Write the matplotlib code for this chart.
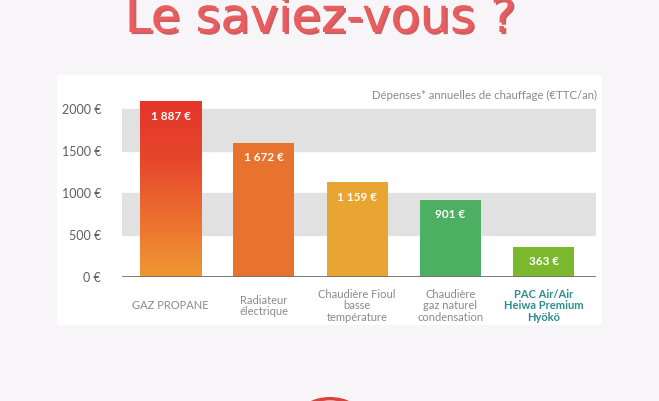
import matplotlib.pyplot as plt
import matplotlib.transforms as mtransforms
import matplotlib.patheffects as pe
from matplotlib.patches import FancyBboxPatch, Circle
import numpy as np

# data
categories = ["GAZ PROPANE", "Radiateur\nélectrique", "Chaudière Fioul\nbasse\ntempérature",
              "Chaudière\ngaz naturel\ncondensation", "PAC Air/Air\nHeiwa Premium\nHyökö"]
heights = [2085, 1590, 1120, 910, 355]          # bar heights as drawn
value_labels = ["1 887 €", "1 672 €", "1 159 €", "901 €", "363 €"]
yticks = [0, 500, 1000, 1500, 2000]
ytick_labels = ["0 €", "500 €", "1000 €", "1500 €", "2000 €"]
bar_colors = ["#e84a2e", "#e8732f", "#e9a531", "#4daf62", "#7cb82e"]

W, H = 659, 402
fig = plt.figure(figsize=(W / 100, H / 100), dpi=100)
fig.patch.set_facecolor("#f7f5f7")

def fx(px):
    return px / W

def fy(py):
    return 1 - py / H

# white panel behind the chart
panel = FancyBboxPatch((fx(57), fy(326)), fx(602) - fx(57), fy(76) - fy(326),
                       boxstyle="round,pad=0,rounding_size=0.006",
                       transform=fig.transFigure, facecolor="white", edgecolor="none", zorder=0)
fig.patches.append(panel)

# title with shadow (top is cut by the frame, as in the original)
fig.text(fx(320), fy(33), "Le saviez-vous ?", ha="center", va="baseline",
         fontsize=34.5, color="#ea5c5d", family="DejaVu Sans",
         path_effects=[pe.withSimplePatchShadow(offset=(1.5, -1.5), shadow_rgbFace="#c0393c", alpha=0.8)])

# axes: 0 at y=277.5 px, 84 px per 1000
ax_top = 80
ax = fig.add_axes([fx(122), fy(277.5), fx(596) - fx(122), (277.5 - ax_top) / H], zorder=3)
ax.set_facecolor("none")
ax.set_xlim(-0.52, 4.56)
ax.set_ylim(0, (277.5 - ax_top) / 84 * 1000)

ax.axhspan(500, 1000, color="#e1e1e1", zorder=0)
ax.axhspan(1500, 2000, color="#e1e1e1", zorder=0)

x = np.arange(len(categories))
bars = ax.bar(x, heights, width=0.656, color=bar_colors, zorder=2)

# gradient on the first bar (red on top, orange at the bottom)
b0 = bars[0]
b0.set_facecolor("none")
grad = np.linspace(0, 1, 256).reshape(-1, 1)
cmap = plt.matplotlib.colors.LinearSegmentedColormap.from_list(
    "g", ["#e4342b", "#e6472c", "#ec6f30", "#ef9832"])
im = ax.imshow(grad, extent=(b0.get_x(), b0.get_x() + b0.get_width(), 0, b0.get_height()),
               aspect="auto", cmap=cmap, origin="upper", zorder=2)
im.set_clip_path(b0)

ax.axhline(0, color="#707070", lw=2, zorder=3)

for i, (h, lab) in enumerate(zip(heights, value_labels)):
    ax.text(i, h - 165, lab, ha="center", va="center", color="white",
            fontsize=8.5, fontweight="bold", family="Lato", zorder=4)

ax.set_yticks(yticks)
ax.set_yticklabels(ytick_labels, family="Lato", fontsize=9, color="#5e5e5e")
ax.tick_params(axis="y", length=0, pad=15)
ax.set_xticks([])
for s in ax.spines.values():
    s.set_visible(False)

# category labels centred at y=306 px
trans = mtransforms.blended_transform_factory(ax.transData, fig.transFigure)
for i, cat in enumerate(categories):
    last = i == len(categories) - 1
    ax.text(i, fy(306), cat, transform=trans, ha="center", va="center",
            fontsize=8, family="Lato", linespacing=1.1,
            color="#2b8f8c" if last else "#8a8a8a",
            fontweight="bold" if last else "normal", clip_on=False)

fig.text(fx(597), fy(95), "Dépenses* annuelles de chauffage (€TTC/an)", ha="right", va="center",
         fontsize=8.2, family="Lato", color="#8a8a8a")

# logo peeking in at the bottom
fig.patches.append(Circle((fx(330), fy(418)), 30 / W, transform=fig.transFigure,
                          facecolor="white", edgecolor="#d8453c", lw=2.5, zorder=1))
fig.patches.append(Circle((fx(330), fy(418)), 20 / W, transform=fig.transFigure,
                          facecolor="#f3e27a", edgecolor="none", zorder=1))

fig.savefig("out.png", dpi=100, facecolor=fig.get_facecolor())
